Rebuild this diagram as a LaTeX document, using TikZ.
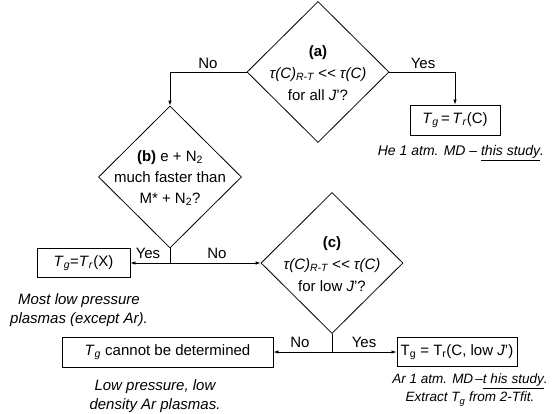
\documentclass[tikz,border=0pt]{standalone}
\usepackage{fontspec}
\setmainfont{Liberation Sans}
\usetikzlibrary{shapes.geometric,arrows.meta}
\newcommand{\llt}{{<}\kern0pt{<}}
\begin{document}
\begin{tikzpicture}[x=1pt,y=-1pt,
  every node/.style={font=\fontsize{15}{22}\selectfont},
  dia/.style={draw, diamond, minimum width=142pt, minimum height=141pt, inner sep=0pt, line width=0.8pt},
  box/.style={draw, rectangle, inner sep=0pt, line width=0.9pt},
  txt/.style={align=center, inner sep=0pt},
  itx/.style={align=center, inner sep=0pt, font=\fontsize{15}{19}\selectfont\itshape},
  lbl/.style={inner sep=0pt, anchor=base},
  arr/.style={-{Latex[length=5pt,width=3.5pt]}, line width=0.8pt},
  ln/.style={line width=0.8pt}]
\useasboundingbox (0,0) rectangle (553,413);

% decisions
\node[dia] (a) at (318,72) {};
\node[txt] (at) at (318,73) {\textbf{(a)}\\ {\itshape τ(C)\textsubscript{R-T} \llt\ τ(C)}\\ for all \textit{J}'?};

\node[dia, minimum width=143pt, minimum height=142pt] (b) at (170,177) {};
\node[txt, font=\fontsize{15}{21}\selectfont] (bt) at (170,178) {\textbf{(b)} e + N\textsubscript{2}\\ much faster than\\ M* + N\textsubscript{2}?};

\node[dia] (c) at (332,263) {};
\node[txt] (ct) at (332,264) {\textbf{(c)}\\ {\itshape τ(C)\textsubscript{R-T} \llt\ τ(C)}\\ for low \textit{J}'?};

% outcomes
\node[box, minimum width=90pt, minimum height=30pt] (bC) at (455,120) {\textit{T}\textsubscript{\textit{g}}\,=\,\textit{T}\textsubscript{\textit{r}}(C)};
\node[box, minimum width=93pt, minimum height=29pt] (bX) at (83.5,263) {\textit{T}\textsubscript{\textit{g}}=\textit{T}\textsubscript{\textit{r}}(X)};
\node[box, minimum width=211pt, minimum height=30pt] (bN) at (167.5,352) {\textit{T}\textsubscript{\textit{g}} cannot be determined};
\node[box, minimum width=120pt, minimum height=29pt] (bL) at (457,352) {T\textsubscript{g} = T\textsubscript{r}(C, low \textit{J}')};

% notes
\node[itx, font=\fontsize{14}{19}\selectfont\itshape] (nC) at (461,153) {He 1 atm. MD – \underline{this study}.};
\node[itx] (nX) at (79,310) {Most low pressure\\ plasmas (except Ar).};
\node[itx] (nN) at (155,396) {Low pressure, low\\ density Ar plasmas.};
\node[itx, font=\fontsize{13.5}{18}\selectfont\itshape] (nL) at (470,390) {Ar 1 atm. MD\,–\underline{t his study}.\\ Extract T\textsubscript{g} from 2-Tfit.};

% connectors
\draw[arr] (a.west) -| (b.north);
\draw[arr] (a.east) -| (bC.north);
\coordinate (jb) at (b.south |- bX.east);
\draw[ln] (b.south) -- (jb);
\draw[arr] (jb) -- (bX.east);
\draw[arr] (jb) -- (c.west);
\coordinate (jc) at (c.south |- bL.west);
\draw[ln] (c.south) -- (jc);
\draw[arr] (jc) -- (bN.east);
\draw[arr] (jc) -- (bL.west);

% labels
\node[lbl] (l1) at (208,68) {No};
\node[lbl] (l2) at (423,68) {Yes};
\node[lbl] (l3) at (148,258) {Yes};
\node[lbl] (l4) at (217,258) {No};
\node[lbl] (l5) at (300,347) {No};
\node[lbl] (l6) at (364,347) {Yes};
\end{tikzpicture}
\end{document}
